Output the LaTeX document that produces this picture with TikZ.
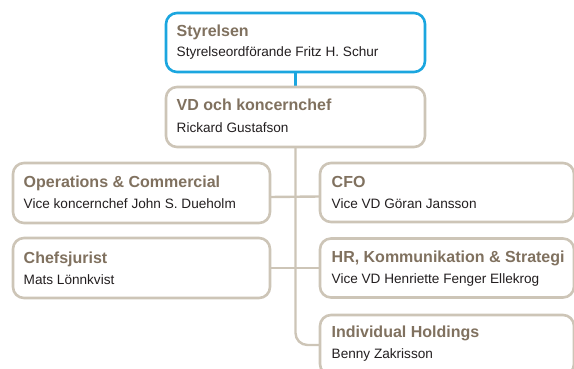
\documentclass[tikz,border=0pt]{standalone}
\usepackage{fontspec}
\setmainfont{Liberation Sans}
\usetikzlibrary{backgrounds}
\definecolor{boardblue}{HTML}{1BA6DF}
\definecolor{frame}{HTML}{CDC5B7}
\definecolor{titlecol}{HTML}{80715F}
\definecolor{namecol}{HTML}{231F20}
\begin{document}
\begin{tikzpicture}[x=1pt,y=-1pt,
  unitbox/.style={draw=frame, line width=2.6pt, rounded corners=11pt, fill=white,
    inner sep=0pt, outer sep=0pt},
  boardbox/.style={unitbox, draw=boardblue},
  head/.style={anchor=base west, inner sep=0pt, text=titlecol,
    font=\bfseries\fontsize{16}{18}\selectfont},
  who/.style={anchor=base west, inner sep=0pt, text=namecol,
    font=\fontsize{13.6}{15}\selectfont},
  link/.style={draw=frame, line width=2.4pt},
  boardlink/.style={link, draw=boardblue}]
\useasboundingbox (0,0) rectangle (574,369);
\clip (0,0) rectangle (574,369);

% boxes
\node[boardbox, minimum width=259pt, minimum height=59pt] (sty) at (295.5,42.5) {};
\node[unitbox, minimum width=259pt, minimum height=60pt] (vd) at (295.5,117) {};
\node[unitbox, minimum width=257pt, minimum height=60pt] (ops) at (141.5,193) {};
\node[unitbox, minimum width=257pt, minimum height=60pt] (chef) at (141.5,268) {};
\node[unitbox, minimum width=254pt, minimum height=59pt] (cfo) at (447,192.5) {};
\node[unitbox, minimum width=254pt, minimum height=59pt] (hr) at (447,268) {};
\node[unitbox, minimum width=254pt, minimum height=60pt] (ind) at (447,345) {};

% texts
\node[head] (sty-t) at (176.5,37) {Styrelsen};
\node[who]  (sty-n) at (176.5,57) {Styrelseordförande Fritz H. Schur};
\node[head] (vd-t) at (176.5,111) {VD och koncernchef};
\node[who]  (vd-n) at (176.5,132) {Rickard Gustafson};
\node[head] (ops-t) at (23.5,187) {Operations \& Commercial};
\node[who]  (ops-n) at (23.5,208) {Vice koncernchef John S. Dueholm};
\node[head] (chef-t) at (23.5,263) {Chefsjurist};
\node[who]  (chef-n) at (23.5,284) {Mats Lönnkvist};
\node[head] (cfo-t) at (331.5,187) {CFO};
\node[who]  (cfo-n) at (331.5,208) {Vice VD Göran Jansson};
\node[head] (hr-t) at (331.5,262) {HR, Kommunikation \& Strategi};
\node[who]  (hr-n) at (331.5,283) {Vice VD Henriette Fenger Ellekrog};
\node[head] (ind-t) at (331.5,337) {Individual Holdings};
\node[who]  (ind-n) at (331.5,358) {Benny Zakrisson};

% connectors
\begin{scope}[on background layer]
  \draw[boardlink] (sty.south) -- (vd.north);
  \draw[link, rounded corners=12pt] (vd.south) |- (ind.west);
  \draw[link] ([yshift=-4pt]ops.east) -- ([yshift=-4pt]cfo.west);
  \draw[link] (chef.east) -- (hr.west);
\end{scope}
\end{tikzpicture}
\end{document}
